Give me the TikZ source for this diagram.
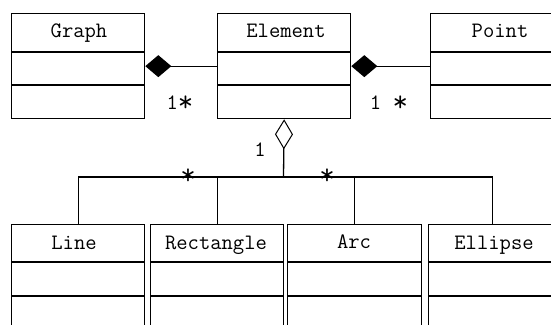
\documentclass[tikz,border=0pt]{standalone}
\usetikzlibrary{arrows.meta}
\newcommand\bigast{\raisebox{-0.1em}{\fontsize{30}{30}\selectfont*}}
\begin{document}
\begin{tikzpicture}[x=1pt,y=-1pt,
  line width=1.3pt,
  box/.style={draw, rectangle, inner sep=0pt, anchor=north west},
  lbl/.style={font=\ttfamily\fontsize{22}{22}\selectfont, inner sep=0pt, text height=13pt, text depth=0pt},
  comp/.style={-{Diamond[fill=black,length=26pt,width=22pt]}},
  aggr/.style={-{Diamond[open,fill=white,length=30pt,width=18pt,line width=1pt]}}
]
\useasboundingbox (0,0) rectangle (551,324);
\clip (0,0) rectangle (551,324);
% top row
\node[box, minimum width=133pt, minimum height=105pt] (graph) at (11,13) {};
\node[box, minimum width=133pt, minimum height=105pt] (element) at (217,13) {};
\node[box, minimum width=140pt, minimum height=105pt] (point) at (430,13) {};
\draw (11,52) -- (144,52) (11,85) -- (144,85);
\draw (217,52) -- (350,52) (217,85) -- (350,85);
\draw (430,52) -- (570,52) (430,85) -- (570,85);
\node[lbl] (tGraph) at (79,31) {Graph};
\node[lbl] (tElement) at (286,31) {Element};
\node[lbl] (tPoint) at (500,31) {Point};
% bottom row
\node[box, minimum width=133pt, minimum height=130pt] (line) at (11,224) {};
\node[box, minimum width=133pt, minimum height=130pt] (rect) at (150,224) {};
\node[box, minimum width=134pt, minimum height=130pt] (arc) at (287,224) {};
\node[box, minimum width=128pt, minimum height=130pt] (ellipse) at (428,224) {};
\draw (11,262) -- (144,262) (11,296) -- (144,296);
\draw (150,262) -- (283,262) (150,296) -- (283,296);
\draw (287,262) -- (421,262) (287,296) -- (421,296);
\draw (428,262) -- (556,262) (428,296) -- (556,296);
\node[lbl] (tLine) at (74,243) {Line};
\node[lbl] (tRect) at (216,243) {Rectangle};
\node[lbl] (tArc) at (354,242) {Arc};
\node[lbl] (tEllipse) at (494,243) {Ellipse};
% compositions
\draw[comp] (element.west) -- (graph.east);
\draw[comp] (point.west) -- (element.east);
\node[lbl] (m1) at (180,103) {1\bigast};
\node[lbl] (m2) at (389,103) {1 \bigast};
% aggregation
\coordinate (j) at (283.5,177);
\draw[aggr] (j) -- (element.south);
\node[lbl] (m3) at (260,150) {1};
\coordinate (bl) at (line.north |- j);
\coordinate (be) at (ellipse.north |- j);
\draw (line.north) -- (bl) -- (be) -- (ellipse.north);
\draw (rect.north) -- (rect.north |- j);
\draw (arc.north) -- (arc.north |- j);
\node[lbl] (s1) at (188,176) {\bigast};
\node[lbl] (s2) at (327,176) {\bigast};
\end{tikzpicture}
\end{document}
